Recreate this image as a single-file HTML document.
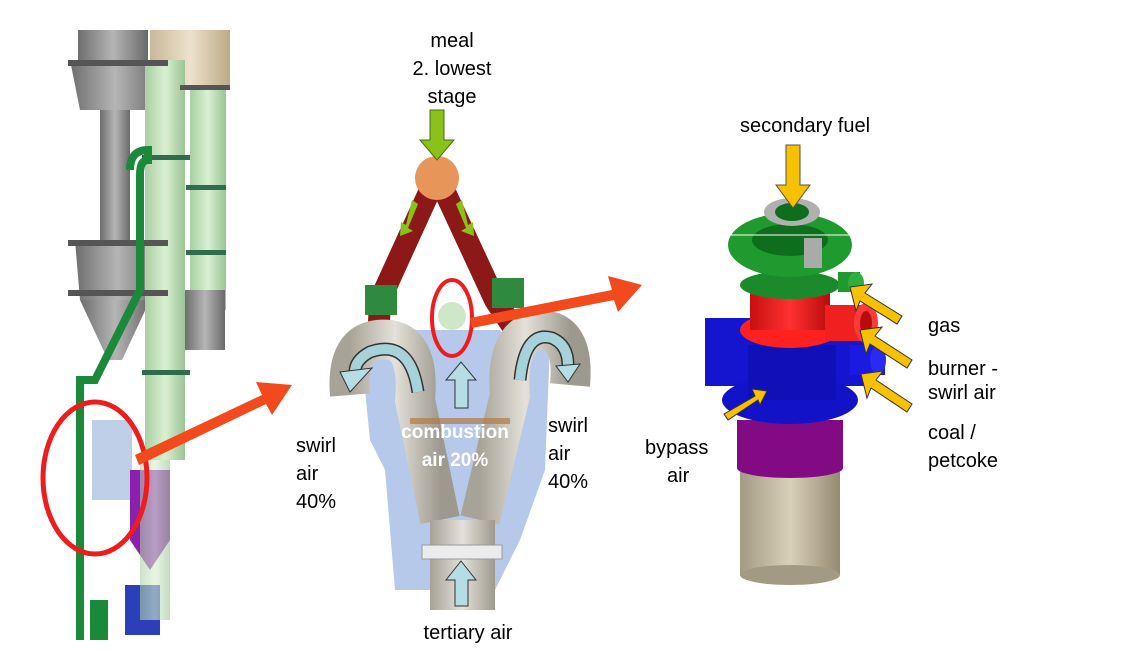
<!DOCTYPE html>
<html><head><meta charset="utf-8">
<style>
html,body{margin:0;padding:0;background:#fff;}
svg{display:block;font-family:"Liberation Sans",Arial,sans-serif;}
</style></head>
<body>
<svg width="1127" height="651" viewBox="0 0 1127 651" xmlns="http://www.w3.org/2000/svg">
<defs>
<linearGradient id="gr" x1="0" x2="1"><stop offset="0" stop-color="#6e6e6e"/><stop offset=".5" stop-color="#b5b5b5"/><stop offset="1" stop-color="#6a6a6a"/></linearGradient>
<linearGradient id="gg" x1="0" x2="1"><stop offset="0" stop-color="#a9cfa3"/><stop offset=".5" stop-color="#d8f0d2"/><stop offset="1" stop-color="#9cc495"/></linearGradient>
<linearGradient id="gb" x1="0" x2="1"><stop offset="0" stop-color="#c8b89a"/><stop offset=".5" stop-color="#ede2cc"/><stop offset="1" stop-color="#bda986"/></linearGradient>
<linearGradient id="gd" x1="0" x2="1"><stop offset="0" stop-color="#a8a398"/><stop offset=".5" stop-color="#e4e1da"/><stop offset="1" stop-color="#9e998e"/></linearGradient>
<linearGradient id="gt" x1="0" x2="1"><stop offset="0" stop-color="#a39a83"/><stop offset=".5" stop-color="#d9d0b8"/><stop offset="1" stop-color="#948a70"/></linearGradient>
<linearGradient id="gred" x1="0" x2="1"><stop offset="0" stop-color="#c81010"/><stop offset=".5" stop-color="#ff3030"/><stop offset="1" stop-color="#b80c0c"/></linearGradient>
</defs>

<!-- LEFT TOWER -->
<rect x="78" y="30" width="70" height="30" fill="url(#gr)"/>
<polygon points="70,60 160,60 150,110 80,110" fill="url(#gr)"/>
<rect x="100" y="110" width="30" height="130" fill="url(#gr)"/>
<polygon points="75,240 160,240 150,300 80,300" fill="url(#gr)"/>
<polygon points="80,300 150,300 122,360 108,360" fill="url(#gr)"/>
<rect x="150" y="30" width="80" height="60" fill="url(#gb)"/>
<rect x="145" y="60" width="40" height="400" fill="url(#gg)"/>
<rect x="190" y="90" width="36" height="220" fill="url(#gg)"/>
<rect x="185" y="290" width="40" height="60" fill="url(#gr)"/>
<g fill="#555"><rect x="68" y="60" width="100" height="6"/><rect x="68" y="240" width="100" height="6"/><rect x="68" y="290" width="100" height="6"/><rect x="180" y="85" width="50" height="5"/></g>
<g fill="#2f6e4a"><rect x="142" y="155" width="48" height="5"/><rect x="186" y="185" width="40" height="5"/><rect x="186" y="250" width="40" height="5"/><rect x="142" y="370" width="48" height="5"/></g>
<path d="M130 170 Q130 150 148 150 L148 160 Q140 160 140 175 L140 290 L110 350 L95 380 L80 380 L80 640" stroke="#1a8a3a" stroke-width="8" fill="none"/>
<rect x="90" y="600" width="18" height="40" fill="#1a8a3a"/>
<rect x="92" y="420" width="40" height="80" fill="#c0cfe8"/>
<polygon points="130,470 170,470 170,540 150,570 130,540" fill="#8a1fb0"/>
<rect x="125" y="585" width="35" height="50" fill="#2b3fb8"/>
<rect x="140" y="460" width="30" height="160" fill="url(#gg)" opacity=".6"/>
<ellipse cx="95" cy="478" rx="52" ry="76" fill="none" stroke="#ee1c1c" stroke-width="5"/>
<polygon points="135,455 262,395 256,382 292,385 272,415 266,404 139,465" fill="#f24a1c"/>

<!-- MIDDLE -->
<text x="452" y="47" font-size="20" text-anchor="middle">meal</text>
<text x="452" y="75" font-size="20" text-anchor="middle">2. lowest</text>
<text x="452" y="103" font-size="20" text-anchor="middle">stage</text>
<path d="M437 175 L380 300 L378 345" stroke="#8d1818" stroke-width="22" fill="none"/>
<path d="M437 175 L495 300 L525 345" stroke="#8d1818" stroke-width="22" fill="none"/>
<circle cx="437" cy="178" r="22" fill="#e8955a"/>
<polygon points="430,110 444,110 444,140 454,140 437,160 420,140 430,140" fill="#8bc21a" stroke="#4a6e10"/>
<polygon points="412,200 418,204 408,228 413,231 400,236 401,222 406,225" fill="#8bc21a"/>
<polygon points="462,200 456,204 466,228 461,231 474,236 473,222 468,225" fill="#8bc21a"/>
<rect x="365" y="285" width="32" height="30" fill="#2e8a3e"/>
<rect x="492" y="278" width="32" height="30" fill="#2e8a3e"/>
<!-- blue body -->
<path d="M415 330 L500 330 L505 340 L550 345 L545 470 L520 540 L495 590 L395 590 L385 470 L370 440 L360 340 Z" fill="#b6c9ea"/>
<!-- ducts -->
<path d="M350 395 Q345 335 390 340 Q420 345 415 400 L440 520" stroke="url(#gd)" stroke-width="40" fill="none"/>
<path d="M570 385 Q575 330 540 330 Q505 335 510 395 L480 520" stroke="url(#gd)" stroke-width="40" fill="none"/>
<path d="M460 370 L460 520" stroke="url(#gd)" stroke-width="44" fill="none"/>
<rect x="430" y="520" width="65" height="90" fill="url(#gd)"/>
<rect x="422" y="545" width="80" height="14" fill="#ececec" stroke="#999"/>
<rect x="410" y="418" width="100" height="6" fill="#b07a45" opacity=".7"/>
<!-- swirl arrows -->
<path d="M418 392 Q410 338 370 352 Q355 360 355 372" stroke="#333" stroke-width="13" fill="none"/>
<path d="M418 392 Q410 338 370 352 Q355 360 355 372" stroke="#a8d2da" stroke-width="10" fill="none"/>
<polygon points="340,372 372,368 350,392" fill="#b6dde5" stroke="#333"/>
<path d="M520 380 Q525 330 552 338 Q568 345 568 365" stroke="#333" stroke-width="13" fill="none"/>
<path d="M520 380 Q525 330 552 338 Q568 345 568 365" stroke="#a8d2da" stroke-width="10" fill="none"/>
<polygon points="556,366 580,364 568,382" fill="#b6dde5" stroke="#333"/>
<polygon points="455,408 468,408 468,380 476,380 461,362 446,380 455,380" fill="#b6dde5" stroke="#333"/>
<polygon points="455,606 468,606 468,580 476,580 461,561 446,580 455,580" fill="#b6dde5" stroke="#333"/>
<ellipse cx="452" cy="318" rx="20" ry="38" fill="none" stroke="#ee1c1c" stroke-width="4"/>
<circle cx="452" cy="316" r="14" fill="#cfe6c8"/>
<polygon points="470,318 612,290 608,276 642,285 618,312 614,300 472,328" fill="#f24a1c"/>
<text x="455" y="438" font-size="19" font-weight="bold" fill="#fff" text-anchor="middle">combustion</text>
<text x="455" y="466" font-size="19" font-weight="bold" fill="#fff" text-anchor="middle">air 20%</text>
<text x="296" y="452" font-size="20">swirl</text>
<text x="296" y="480" font-size="20">air</text>
<text x="296" y="508" font-size="20">40%</text>
<text x="548" y="432" font-size="20">swirl</text>
<text x="548" y="460" font-size="20">air</text>
<text x="548" y="488" font-size="20">40%</text>
<text x="468" y="639" font-size="20" text-anchor="middle">tertiary air</text>

<!-- RIGHT BURNER -->
<rect x="740" y="460" width="100" height="115" fill="url(#gt)"/>
<ellipse cx="790" cy="575" rx="50" ry="10" fill="#a39a83"/>
<rect x="737" y="420" width="106" height="48" fill="#820a82"/>
<ellipse cx="790" cy="468" rx="53" ry="10" fill="#820a82"/>
<rect x="705" y="318" width="160" height="68" fill="#1515d0"/>
<rect x="850" y="345" width="35" height="30" fill="#1a1ae0"/>
<ellipse cx="878" cy="360" rx="8" ry="14" fill="#2a2af0"/>
<ellipse cx="790" cy="400" rx="68" ry="24" fill="#1212c8"/>
<rect x="748" y="345" width="88" height="55" fill="#1010b8"/>
<ellipse cx="790" cy="330" rx="50" ry="18" fill="#ff2020"/>
<rect x="750" y="290" width="80" height="40" fill="url(#gred)"/>
<rect x="825" y="305" width="45" height="36" fill="#ee2020"/>
<ellipse cx="866" cy="323" rx="12" ry="20" fill="#ff3a3a"/>
<ellipse cx="866" cy="323" rx="6" ry="12" fill="#b80c0c"/>
<ellipse cx="790" cy="285" rx="50" ry="14" fill="#1a8a2a"/>
<ellipse cx="790" cy="245" rx="62" ry="32" fill="#1e9a2e"/>
<ellipse cx="790" cy="240" rx="38" ry="16" fill="#0f6e1e"/>
<ellipse cx="792" cy="212" rx="28" ry="14" fill="#b0b0b0"/>
<ellipse cx="792" cy="212" rx="17" ry="9" fill="#0f6e1e"/>
<rect x="804" y="238" width="18" height="30" fill="#aaa"/>
<rect x="838" y="272" width="22" height="20" fill="#1e9a2e"/>
<ellipse cx="856" cy="283" rx="8" ry="11" fill="#2fb03e"/>
<line x1="720" y1="235" x2="860" y2="235" stroke="#fff" stroke-width="1"/>
<polygon points="786,145 800,145 800,185 810,185 793,208 776,185 786,185" fill="#f7c000" stroke="#555"/>
<polygon points="865,293 902,316 897,324 860,301 856,311 850,287 872,284" fill="#f7c000" stroke="#333"/>
<polygon points="875,336 912,360 907,368 870,344 866,354 860,330 882,327" fill="#f7c000" stroke="#333"/>
<polygon points="876,380 912,404 907,412 871,388 867,398 861,374 883,371" fill="#f7c000" stroke="#333"/>
<polygon points="724,414 755,396 752,389 767,391 760,405 758,400 728,420" fill="#f7c000" stroke="#333"/>
<text x="805" y="132" font-size="20" text-anchor="middle">secondary fuel</text>
<text x="928" y="332" font-size="20">gas</text>
<text x="928" y="375" font-size="20">burner -</text>
<text x="928" y="399" font-size="20">swirl air</text>
<text x="928" y="439" font-size="20">coal /</text>
<text x="928" y="467" font-size="20">petcoke</text>
<text x="645" y="454" font-size="20">bypass</text>
<text x="667" y="482" font-size="20">air</text>
</svg>
</body></html>
